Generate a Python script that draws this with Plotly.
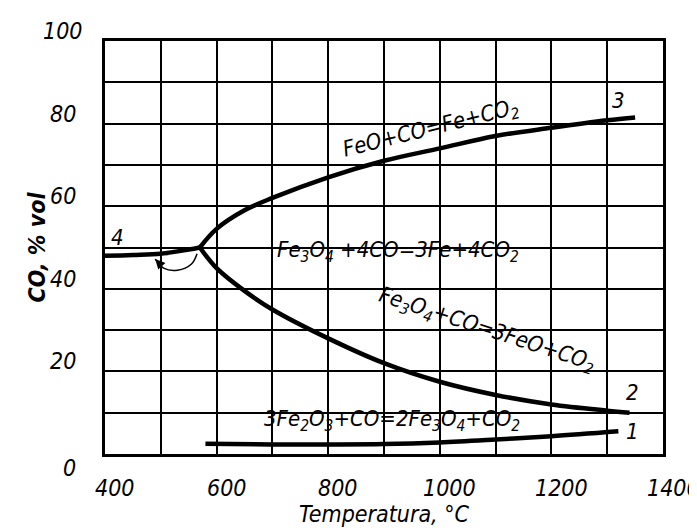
import plotly.graph_objects as go

# Fe-C-O equilibrium curves (temperature in C, CO in % vol)
t_feo = [570, 600, 650, 700, 800, 900, 1000, 1100, 1200, 1300, 1350]
co_feo = [50, 54.5, 59, 62, 67, 71, 74, 77, 79, 80.8, 81.5]

t_fe3o4 = [570, 600, 650, 700, 800, 900, 1000, 1100, 1200, 1300, 1340]
co_fe3o4 = [50, 45, 39.5, 35, 28, 22, 17.5, 14.3, 12, 10.5, 10]

t_low = [400, 450, 500, 550, 570]
co_low = [48, 48.2, 48.5, 49.5, 50]

t_fe2o3 = [580, 700, 800, 900, 1000, 1100, 1200, 1320]
co_fe2o3 = [2.5, 2.3, 2.3, 2.4, 2.8, 3.5, 4.3, 5.5]

t_arrow = [565, 555, 530, 505, 490]
co_arrow = [48.5, 46, 44.5, 45, 47.2]

x_ticks = [400, 600, 800, 1000, 1200, 1400]
y_ticks = [20, 40, 60, 80, 100]

FONT = "DejaVu Sans Condensed, DejaVu Sans, sans-serif"

fig = go.Figure()
for xs, ys in [(t_feo, co_feo), (t_fe3o4, co_fe3o4), (t_low, co_low), (t_fe2o3, co_fe2o3)]:
    fig.add_trace(go.Scatter(x=xs, y=ys, mode="lines", line=dict(color="black", width=4.5, shape="spline"),
                             showlegend=False, hoverinfo="skip"))
fig.add_trace(go.Scatter(x=t_arrow, y=co_arrow, mode="lines", line=dict(color="black", width=1.5, shape="spline"),
                         showlegend=False, hoverinfo="skip"))
fig.add_annotation(x=t_arrow[-1], y=co_arrow[-1], ax=t_arrow[-2], ay=co_arrow[-2], axref="x", ayref="y",
                   showarrow=True, arrowhead=2, arrowsize=1.3, arrowwidth=1.5, arrowcolor="black", text="")

labels = [
    (985, 78.5, "FeO+CO=Fe+CO<sub>2</sub>", -14),
    (925, 49, "Fe<sub>3</sub>O<sub>4</sub> +4CO=3Fe+4CO<sub>2</sub>", 0),
    (1085, 30, "Fe<sub>3</sub>O<sub>4</sub>+CO=3FeO+CO<sub>2</sub>", 18),
    (915, 8, "3Fe<sub>2</sub>O<sub>3</sub>+CO=2Fe<sub>3</sub>O<sub>4</sub>+CO<sub>2</sub>", 0),
    (1320, 85.5, "3", 0), (1345, 15, "2", 0), (1345, 5.5, "1", 0), (422, 52.5, "4", 0),
]
for x, y, t, ang in labels:
    fig.add_annotation(x=x, y=y, text=f"<i>{t}</i>", showarrow=False, textangle=ang,
                       font=dict(family=FONT, size=22, color="black"))

# tick labels drawn like the original (offset, italic)
for v in x_ticks:
    fig.add_annotation(x=v, y=0, yshift=-34, xshift=10, text=f"<i>{v}</i>", showarrow=False,
                       font=dict(family=FONT, size=23, color="black"))
for v in y_ticks:
    fig.add_annotation(x=400, y=v, xshift=-42, yshift=10, text=f"<i>{v}</i>", showarrow=False,
                       font=dict(family=FONT, size=23, color="black"))
fig.add_annotation(x=400, y=0, xshift=-36, yshift=-14, text="<i>0</i>", showarrow=False,
                   font=dict(family=FONT, size=23, color="black"))

fig.update_xaxes(range=[400, 1400], dtick=100, showticklabels=False, showgrid=True, gridcolor="black",
                 gridwidth=2, showline=True, linecolor="black", linewidth=3, mirror=True, zeroline=False,
                 title=dict(text="<i>Temperatura, °C</i>", font=dict(family=FONT, size=23, color="black"),
                            standoff=50))
fig.update_yaxes(range=[0, 100], dtick=10, showticklabels=False, showgrid=True, gridcolor="black",
                 gridwidth=2, showline=True, linecolor="black", linewidth=3, mirror=True, zeroline=False,
                 title=dict(text="<i><b>CO, % vol</b></i>", font=dict(family=FONT, size=23, color="black"),
                            standoff=50))
fig.update_layout(width=697, height=532, margin=dict(l=97, r=42, t=33, b=86),
                  plot_bgcolor="white", paper_bgcolor="white")
fig.write_html("out.html")
